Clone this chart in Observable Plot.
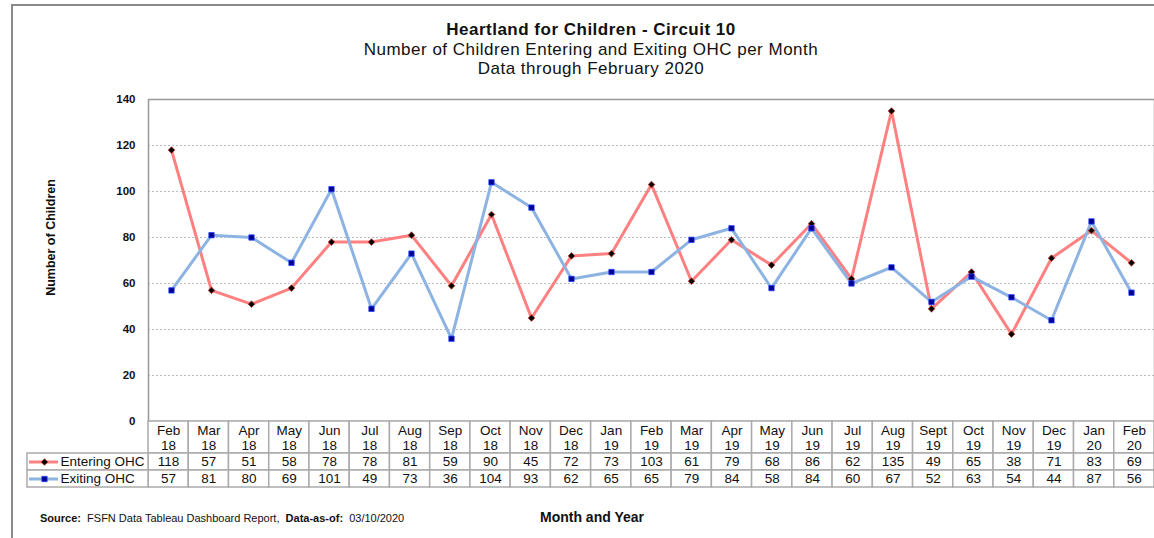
<!DOCTYPE html>
<html><head><meta charset="utf-8">
<script src="https://cdn.jsdelivr.net/npm/d3@7"></script>
<script src="https://cdn.jsdelivr.net/npm/@observablehq/plot@0.6"></script>
<style>
body{margin:0;background:#fff;font-family:Arial,"Liberation Sans",sans-serif;overflow:hidden}
#wrap{position:relative;width:1154px;height:538px;overflow:hidden;background:#fff}
#border{position:absolute;left:11px;top:4px;width:1200px;height:600px;border:2px solid #8a8a8a;box-sizing:border-box;pointer-events:none}
#titles{position:relative;height:85px;padding-left:28px;padding-top:20px;box-sizing:border-box;text-align:center;color:#111;line-height:19.5px;font-size:17px;letter-spacing:0.5px}
#titles .t1{font-weight:bold}
svg{display:block;overflow:visible}
#src{position:absolute;left:40px;top:512px;font-size:11px;color:#111;white-space:pre}
#xl{position:absolute;left:492px;width:200px;text-align:center;top:509px;font-size:14px;font-weight:bold;color:#111}
</style></head>
<body><div id="wrap"><div id="border"></div>
<div id="titles"><div class="t1">Heartland for Children - Circuit 10</div><div>Number of Children Entering and Exiting OHC per Month</div><div>Data through February 2020</div></div>
<div id="chart"></div><div id="table"></div>
<div id="src"><b>Source:</b>  FSFN Data Tableau Dashboard Report,  <b>Data-as-of:</b>  03/10/2020</div>
<div id="xl">Month and Year</div>
</div>
<script>
const months = ["Feb 18","Mar 18","Apr 18","May 18","Jun 18","Jul 18","Aug 18","Sep 18","Oct 18","Nov 18","Dec 18","Jan 19","Feb 19","Mar 19","Apr 19","May 19","Jun 19","Jul 19","Aug 19","Sept 19","Oct 19","Nov 19","Dec 19","Jan 20","Feb 20"];
const entering = [118,57,51,58,78,78,81,59,90,45,72,73,103,61,79,68,86,62,135,49,65,38,71,83,69];
const exiting = [57,81,80,69,101,49,73,36,104,93,62,65,65,79,84,58,84,60,67,52,63,54,44,87,56];
const seriesNames = ["Entering OHC","Exiting OHC"];
const yTicks = [0,20,40,60,80,100,120,140];
const yLabel = "Number of Children";

const colors = {line:["#ff8080","#8db3e2"], mark:["#000000","#00008b"]};
const font = 'Arial, "Liberation Sans", sans-serif';
const rows = months.map((m,i)=>({month:m, entering:entering[i], exiting:exiting[i]}));

const chart = Plot.plot({
  width:1154, height:336, marginTop:14, marginBottom:0, marginLeft:148, marginRight:0,
  style:{fontFamily:font, overflow:"visible", background:"transparent", color:"#111"},
  x:{type:"point", domain:months, padding:0.5, axis:null},
  y:{domain:[0,140]},
  marks:[
    Plot.gridY(yTicks.filter(t=>t>0&&t<140), {stroke:"#bdbdbd", strokeOpacity:1, strokeDasharray:"2,2"}),
    Plot.frame({stroke:"#999", strokeWidth:1.5}),
    Plot.axisY(yTicks, {tickSize:0, tickPadding:13, fontWeight:"bold", fontSize:11.5, label:null}),
    Plot.text([yLabel], {frameAnchor:"left", textAnchor:"middle", dx:-98, dy:-23, rotate:-90, fontWeight:"bold", fontSize:12.5, fill:"#111"}),
    Plot.line(rows,{x:"month",y:"entering",stroke:colors.line[0],strokeWidth:3}),
    Plot.line(rows,{x:"month",y:"exiting",stroke:colors.line[1],strokeWidth:3}),
    Plot.dot(rows,{x:"month",y:"entering",symbol:"diamond2",r:3,fill:colors.mark[0],stroke:"#c0392b",strokeWidth:0.8}),
    Plot.dot(rows,{x:"month",y:"exiting",symbol:"square",r:3,fill:colors.mark[1],stroke:"#1f3fff",strokeWidth:0.8})
  ]
});
document.getElementById("chart").appendChild(chart);

// table below, aligned to the same columns
const L = 148, R = 1154, n = months.length, colW = (R-L)/n;
const px = p => -0.5 + (p-L)/colW;
const rowY = {head:[0,32], e:[32,49], x:[49,66]};
const headCells = months.map((m,i)=>({i, label:m.replace(" ","\n")}));
const valCells = months.flatMap((m,i)=>[
  {i, v:entering[i], y1:rowY.e[0], y2:rowY.e[1]},
  {i, v:exiting[i], y1:rowY.x[0], y2:rowY.x[1]}
]);
const legendCells = seriesNames.map((s,k)=>({s,k, y1:k?rowY.x[0]:rowY.e[0], y2:k?rowY.x[1]:rowY.e[1]}));
const cellStroke = "#ababab";
const table = Plot.plot({
  width:1154, height:70, marginTop:0, marginBottom:0, marginLeft:0, marginRight:0,
  style:{fontFamily:font, overflow:"visible", background:"transparent", color:"#111"},
  x:{type:"linear", domain:[-0.5, n-0.5], range:[L,R], axis:null},
  y:{type:"linear", domain:[0,70], range:[0,70], axis:null},
  marks:[
    Plot.rect(headCells,{x1:d=>d.i-0.5,x2:d=>d.i+0.5,y1:rowY.head[0],y2:rowY.head[1],fill:"white",stroke:cellStroke,strokeWidth:1.5}),
    Plot.rect(valCells,{x1:d=>d.i-0.5,x2:d=>d.i+0.5,y1:"y1",y2:"y2",fill:"white",stroke:cellStroke,strokeWidth:1.5}),
    Plot.rect(legendCells,{x1:px(27),x2:-0.5,y1:"y1",y2:"y2",fill:"white",stroke:cellStroke,strokeWidth:1.5}),
    Plot.text(headCells,{x:"i",y:(rowY.head[0]+rowY.head[1])/2,text:"label",fontSize:13.5,lineHeight:1.12,fill:"#111"}),
    Plot.text(valCells,{x:"i",y:d=>(d.y1+d.y2)/2,text:d=>String(d.v),fontSize:13.5,fill:"#111"}),
    Plot.ruleY(legendCells,{y:d=>(d.y1+d.y2)/2,x1:px(29),x2:px(58),stroke:d=>colors.line[d.k],strokeWidth:3}),
    Plot.dot(legendCells,{x:px(44),y:d=>(d.y1+d.y2)/2,symbol:d=>d.k?"square":"diamond2",r:3,fill:d=>colors.mark[d.k],stroke:d=>d.k?"#1f3fff":"#c0392b",strokeWidth:0.8}),
    Plot.text(legendCells,{x:px(60),y:d=>(d.y1+d.y2)/2,text:"s",textAnchor:"start",fontSize:13.5,fill:"#111"})
  ]
});
document.getElementById("table").appendChild(table);
</script>
</body></html>
